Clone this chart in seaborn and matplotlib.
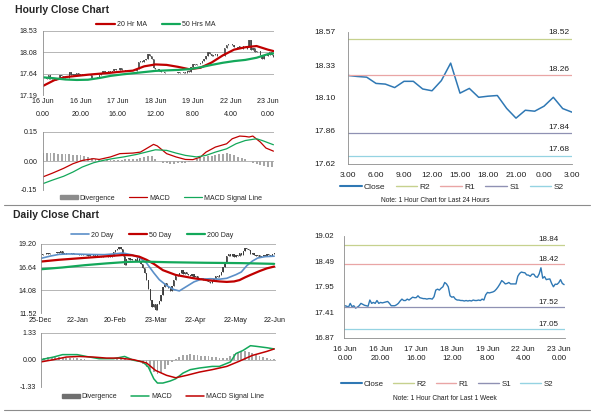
import numpy as np
import matplotlib
matplotlib.use("Agg")
import matplotlib.pyplot as plt
from matplotlib.lines import Line2D
from matplotlib.patches import Patch
import seaborn as sns

# ---------------- data ----------------
# Hourly closes, 16 Jun 0.00 .. 23 Jun 3.00 (trading hours)
week_close = [
    17.55, 17.54, 17.52, 17.60, 17.53, 17.55, 17.50, 17.52, 17.55, 17.60,
    17.58, 17.56, 17.55, 17.54, 17.67, 17.60, 17.62, 17.60, 17.66, 17.60,
    17.62, 17.61, 17.62, 17.63, 17.64, 17.60, 17.55, 17.55, 17.55, 17.57,
    17.60, 17.65, 17.69, 17.66, 17.66, 17.69, 17.67, 17.70, 17.73, 17.72,
    17.72, 17.76, 17.72, 17.71, 17.70, 17.70, 17.69, 17.70, 17.70, 17.69,
    17.74, 17.88, 17.90, 17.88, 17.92, 17.95, 18.04, 18.01, 17.95, 17.76,
    17.73, 17.74, 17.69, 17.67, 17.67, 17.66, 17.66, 17.65, 17.66, 17.65,
    17.66, 17.65, 17.67, 17.66, 17.66, 17.67, 17.66, 17.69, 17.67, 17.78,
    17.83, 17.82, 17.83, 17.84, 17.86, 17.90, 17.95, 18.01, 18.08, 18.05,
    18.01, 18.02, 18.04, 18.01, 18.01, 18.01, 18.01, 18.17, 18.23, 18.26,
    18.25, 18.245, 18.20, 18.195, 18.17, 18.215, 18.215, 18.16, 18.15, 18.22,
    18.35, 18.13, 18.165, 18.10, 18.11, 18.115, 18.02, 17.95, 18.005, 18.00,
    18.035, 18.10, 18.02, 17.995]
hour_ticks = [0, 20, 40, 60, 80, 100, 120]
hour_tick_labels = ["16 Jun\n0.00", "16 Jun\n20.00", "17 Jun\n16.00", "18 Jun\n12.00",
                    "19 Jun\n8.00", "22 Jun\n4.00", "23 Jun\n0.00"]

ma_idx = [0, 6, 12, 18, 24, 30, 36, 42, 48, 54, 60, 66, 72, 78, 84, 90, 96, 102, 108, 114, 120, 123]
ma20_hr = [17.38, 17.50, 17.565, 17.59, 17.615, 17.635, 17.655, 17.68, 17.70, 17.79, 17.83,
           17.82, 17.78, 17.73, 17.76, 17.87, 18.02, 18.14, 18.19, 18.215, 18.14, 18.11]
ma50_hr = [17.56, 17.54, 17.515, 17.505, 17.51, 17.545, 17.59, 17.62, 17.645, 17.67, 17.695,
           17.705, 17.715, 17.73, 17.77, 17.82, 17.865, 17.90, 17.925, 17.97, 18.045, 18.06]

macd_h_idx = [0, 5, 11, 16, 21, 27, 30, 36, 41, 48, 52, 55, 59, 61, 66, 71, 76, 80, 84, 87,
              92, 98, 101, 105, 108, 110, 112, 116, 119, 123]
macd_h = [-0.082, -0.063, -0.038, -0.014, 0.003, 0.012, 0.008, 0.021, 0.038, 0.041, 0.046,
          0.063, 0.086, 0.078, 0.038, 0.021, 0.008, 0.007, 0.020, 0.046, 0.072, 0.089, 0.115,
          0.129, 0.127, 0.124, 0.129, 0.098, 0.067, 0.051]
sig_h_idx = [0, 5, 11, 16, 21, 27, 32, 37, 43, 50, 55, 60, 66, 71, 76, 82, 87, 92, 98, 103,
             108, 114, 117, 123]
sig_h = [-0.117, -0.099, -0.079, -0.057, -0.031, -0.009, 0.003, 0.012, 0.021, 0.034, 0.046,
         0.058, 0.055, 0.041, 0.029, 0.021, 0.029, 0.046, 0.063, 0.089, 0.106, 0.115, 0.106, 0.084]
div_h_idx = list(range(0, 124, 2))
div_h = [0.040, 0.041, 0.040, 0.039, 0.038, 0.037,
         0.036, 0.035, 0.033, 0.031, 0.029,
         0.025, 0.020, 0.015, 0.010, 0.007,
         0.005, 0.004, 0.004, 0.005, 0.006, 0.007, 0.008,
         0.008, 0.010, 0.012, 0.016, 0.022, 0.028, 0.025,
         0.012, 0.000, -0.008, -0.012, -0.014, -0.013, -0.012,
         -0.010, -0.008, -0.004, 0.002, 0.010, 0.018,
         0.022, 0.025, 0.028, 0.030, 0.034, 0.038, 0.040,
         0.036, 0.030, 0.022, 0.015, 0.008, 0.002,
         -0.008, -0.016, -0.022, -0.027, -0.030, -0.030]

# Last 24 hours
day24_labels = ["3.00", "6.00", "9.00", "12.00", "15.00", "18.00", "21.00", "0.00", "3.00"]
day24_close = [18.257, 18.25, 18.245, 18.20, 18.195, 18.17, 18.215, 18.215, 18.16, 18.147,
               18.22, 18.346, 18.13, 18.164, 18.10, 18.108, 18.113, 18.02, 17.95, 18.007,
               18.00, 18.036, 18.10, 18.019, 17.993]
level_names = ["R2", "R1", "S1", "S2"]
levels_24h = [18.52, 18.26, 17.84, 17.68]
levels_week = [18.84, 18.42, 17.52, 17.05]

# Daily (business-day index 0 = 25-Dec)
daily_close = [
    18.0, 18.1, 18.05, 18.15, 18.1, 18.2, 18.15, 18.2, 18.25, 18.3,
    18.2, 18.4, 18.1, 18.15, 18.1, 18.05, 18.1, 18.15, 18.1, 18.05,
    18.1, 18.0, 18.05, 17.95, 18.0, 18.05, 17.9, 18.0, 17.95, 17.9,
    17.95, 17.85, 17.8, 17.85, 17.8, 17.75, 17.8, 17.85, 17.8, 17.9,
    18.3, 18.5, 18.7, 18.9, 18.6, 17.9, 16.9, 17.5, 17.6, 17.4,
    17.5, 17.5, 17.3, 17.6, 17.2, 17.0, 16.5, 16.0, 15.2, 14.2,
    13.0, 12.2, 12.5, 11.9, 12.6, 12.9, 13.5, 14.4, 14.9, 14.5,
    14.3, 14.0, 14.6, 15.2, 15.6, 15.8, 16.0, 16.3, 15.9, 16.1,
    15.9, 15.8, 15.6, 15.9, 15.5, 15.6, 15.4, 15.3, 15.4, 15.2,
    15.3, 15.1, 15.0, 14.9, 15.2, 15.3, 15.6, 15.5, 15.8, 16.1,
    16.6, 17.2, 17.9, 18.1, 17.9, 18.1, 17.8, 18.0, 17.9, 18.2,
    18.0, 18.4, 18.8, 18.6, 18.5, 18.1, 18.2, 18.0, 17.9, 18.0,
    17.8, 17.9, 18.0, 17.9, 18.1, 18.0, 17.9, 18.1, 18.2]
day_ticks = [0, 20, 41, 63, 85, 107, 128]
day_tick_labels = ["25-Dec", "22-Jan", "20-Feb", "23-Mar", "22-Apr", "22-May", "22-Jun"]

ma20_d_idx = [0, 5, 10, 15, 20, 25, 30, 35, 40, 45, 50, 54, 58, 62, 65, 69, 73, 76, 80, 84,
              88, 93, 98, 102, 107, 110, 113, 116, 119, 123, 128]
ma20_d = [17.6, 17.85, 18.05, 18.1, 18.08, 18.05, 18.03, 18.02, 18.1, 18.2, 18.0, 17.7, 17.1,
          16.0, 15.25, 14.6, 14.15, 14.0, 14.5, 15.0, 15.3, 15.35, 15.3, 15.4, 15.8, 16.1,
          16.8, 17.3, 17.65, 17.8, 17.85]
ma50_d_idx = [0, 10, 20, 30, 38, 45, 50, 54, 58, 62, 67, 74, 80, 84, 91, 98, 102, 106, 109,
              112, 115, 120, 124, 128]
ma50_d = [17.25, 17.45, 17.6, 17.75, 17.87, 17.98, 17.95, 17.8, 17.45, 17.0, 16.3, 15.77,
          15.55, 15.4, 15.2, 15.05, 15.0, 15.05, 15.2, 15.5, 15.77, 16.2, 16.5, 16.7]
ma200_d_idx = [0, 12, 24, 36, 48, 56, 70, 90, 110, 128]
ma200_d = [16.4, 16.6, 16.85, 17.05, 17.22, 17.25, 17.18, 17.12, 17.08, 17.0]

macd_d_idx = [0, 7, 12, 20, 25, 32, 40, 46, 51, 56, 59, 62, 64, 67, 71, 74, 78, 82, 87, 94,
              98, 104, 107, 111, 115, 118, 124, 128]
macd_d = [0.0, 0.13, 0.25, 0.25, 0.16, 0.05, 0.05, 0.16, -0.03, -0.11, -0.36, -0.94, -1.15,
          -1.15, -1.05, -0.94, -0.66, -0.49, -0.41, -0.33, -0.33, -0.11, 0.30, 0.46, 0.69,
          0.66, 0.59, 0.53]
sig_d_idx = [0, 7, 14, 21, 29, 36, 43, 51, 58, 63, 69, 74, 80, 87, 94, 102, 109, 116, 124, 128]
sig_d = [-0.11, 0.0, 0.13, 0.16, 0.13, 0.08, 0.08, 0.0, -0.16, -0.53, -0.77, -0.89, -0.77,
         -0.61, -0.49, -0.33, -0.07, 0.21, 0.41, 0.53]
div_d_idx = list(range(0, 129, 2))
div_d = [0.08, 0.10, 0.12, 0.12, 0.12, 0.11,
         0.10, 0.10, 0.09, 0.08, 0.06,
         0.04, 0.02, 0.00, -0.02, -0.03,
         -0.03, -0.03, -0.02, -0.01, 0.00,
         0.03, 0.05, 0.06, 0.00, -0.05,
         -0.08, -0.12, -0.20, -0.35, -0.50,
         -0.62, -0.72, -0.65, -0.45, -0.25,
         -0.10, 0.05, 0.15, 0.22, 0.25,
         0.26, 0.25, 0.22, 0.20, 0.18,
         0.16, 0.14, 0.12, 0.10, 0.08,
         0.10, 0.20, 0.30, 0.38, 0.42,
         0.42, 0.40, 0.35, 0.25, 0.18,
         0.12, 0.08, 0.05, 0.02]

# ---------------- style ----------------
sns.set_theme(style="white")
plt.rcParams["font.family"] = ["Liberation Sans", "DejaVu Sans"]

RED = "#c00000"
GREEN = "#13a85a"
BLUE = "#5b8fc8"
CLOSE = "#2f78b4"
GRID = "#a9a9a9"
SPINE = "#8c8c8c"
BARC = "#a6a6a6"
LEVEL_COLORS = ["#c6d18e", "#e9a5a5", "#8f91b3", "#95d3e2"]
TXT = "#1e1e1e"
LBL = 5.1

W, H = 600, 413
fig = plt.figure(figsize=(6, 4.13), dpi=100)


def rect(l, t, r, b):
    return [l / W, 1 - b / H, (r - l) / W, (b - t) / H]


def base(ax):
    for s in ["top", "right", "bottom"]:
        ax.spines[s].set_visible(False)
    ax.spines["left"].set_color(SPINE)
    ax.spines["left"].set_linewidth(0.6)
    ax.set_xlabel("")
    ax.set_ylabel("")


def fy(y):
    return 1 - y / H


# ---- titles and separators ----
fig.text(15 / W, fy(10), "Hourly Close Chart", fontsize=7.5, fontweight="bold", va="center")
fig.text(13 / W, fy(215), "Daily Close Chart", fontsize=7.5, fontweight="bold", va="center")
for yy in (205, 410):
    fig.add_artist(Line2D([4 / W, 590 / W], [fy(yy), fy(yy)], color=SPINE, lw=0.8))

# ---- ax1: hourly candles ----
ax1 = fig.add_axes(rect(43, 31, 274, 95))
x = np.arange(len(week_close))
opens = np.array([week_close[0]] + week_close[:-1])
closes = np.array(week_close)
ax1.bar(x, closes - opens, bottom=opens, width=0.75, color="#5f5f5f", linewidth=0)
ax1.vlines(x, np.minimum(opens, closes), np.maximum(opens, closes), color="#444444", lw=0.6)
sns.lineplot(x=ma_idx, y=ma20_hr, ax=ax1, color=RED, lw=1.6, legend=False)
sns.lineplot(x=ma_idx, y=ma50_hr, ax=ax1, color=GREEN, lw=1.6, legend=False)
ax1.set_xlim(0, 123.3)
ax1.set_ylim(17.19, 18.53)
ax1.set_yticks([17.19, 17.64, 18.08, 18.53])
ax1.set_yticklabels(["17.19", "17.64", "18.08", "18.53"])
ax1.set_xticks(hour_ticks)
ax1.set_xticklabels(hour_tick_labels, linespacing=2.1)
ax1.yaxis.grid(True, color=GRID, lw=0.6)
ax1.xaxis.grid(False)
base(ax1)
ax1.tick_params(axis="both", length=0, labelsize=LBL, colors=TXT)
ax1.tick_params(axis="y", pad=4)
ax1.tick_params(axis="x", pad=2.5)
ax1.legend(handles=[Line2D([], [], color=RED, lw=1.6), Line2D([], [], color=GREEN, lw=1.6)],
           labels=["20 Hr MA", "50 Hrs MA"], loc="center", ncol=2, frameon=False,
           bbox_to_anchor=(156 / W, fy(25)), bbox_transform=fig.transFigure,
           fontsize=5, handlelength=2.6, handletextpad=0.3, columnspacing=2.2)

# ---- ax2: hourly MACD ----
ax2 = fig.add_axes(rect(43, 132, 274, 190))
ax2.bar(div_h_idx, div_h, width=1.0, color=BARC, linewidth=0)
sns.lineplot(x=macd_h_idx, y=macd_h, ax=ax2, color=RED, lw=0.9, legend=False)
sns.lineplot(x=sig_h_idx, y=sig_h, ax=ax2, color=GREEN, lw=0.9, legend=False)
ax2.axhline(0, color=GRID, lw=0.6, zorder=0)
ax2.axhline(0.15, color=GRID, lw=0.6, zorder=0)
ax2.set_xlim(0, 123.3)
ax2.set_ylim(-0.15, 0.15)
ax2.set_yticks([-0.15, 0.0, 0.15])
ax2.set_yticklabels(["-0.15", "0.00", "0.15"])
ax2.set_xticks([])
base(ax2)
ax2.tick_params(axis="both", length=0, labelsize=LBL, pad=4, colors=TXT)
ax2.legend(handles=[Patch(color="#8c8c8c"), Line2D([], [], color=RED, lw=0.9),
                    Line2D([], [], color=GREEN, lw=0.9)],
           labels=["Divergence", "MACD", "MACD Signal Line"], loc="center", ncol=3, frameon=False,
           bbox_to_anchor=(161 / W, fy(198)), bbox_transform=fig.transFigure,
           fontsize=5, handlelength=2.6, handleheight=0.5, handletextpad=0.3, columnspacing=2.0)

# ---- ax3: last 24 hours ----
ax3 = fig.add_axes(rect(348, 32, 572, 164))
sns.lineplot(x=list(range(len(day24_close))), y=day24_close, ax=ax3, color=CLOSE, lw=1.1,
             legend=False)
for lv, c in zip(levels_24h, LEVEL_COLORS):
    ax3.axhline(lv, color=c, lw=0.9)
    ax3.text(22.6, lv + 0.018, f"{lv:.2f}", ha="center", va="bottom", fontsize=6, color=TXT)
ax3.set_xlim(0, 24)
ax3.set_ylim(17.62, 18.57)
ax3.set_yticks([17.62, 17.86, 18.10, 18.33, 18.57])
ax3.set_yticklabels(["17.62", "17.86", "18.10", "18.33", "18.57"])
ax3.set_xticks(list(range(0, 25, 3)))
ax3.set_xticklabels(day24_labels)
base(ax3)
ax3.spines["bottom"].set_visible(True)
ax3.spines["bottom"].set_color(SPINE)
ax3.spines["bottom"].set_linewidth(0.6)
ax3.tick_params(axis="both", length=2, width=0.5, color=SPINE, labelsize=6, colors=TXT)
ax3.tick_params(axis="y", pad=7)
ax3.tick_params(axis="x", pad=3.5)
ax3.legend(handles=[Line2D([], [], color=CLOSE, lw=1.5)] +
           [Line2D([], [], color=c, lw=1.0) for c in LEVEL_COLORS],
           labels=["Close"] + level_names, loc="center", ncol=5, frameon=False,
           bbox_to_anchor=(452 / W, fy(187)), bbox_transform=fig.transFigure,
           fontsize=6, handlelength=2.6, handletextpad=0.3, columnspacing=1.2)
fig.text(435 / W, fy(201), "Note: 1 Hour Chart for Last 24 Hours", ha="center", va="center",
         fontsize=4.8, color=TXT)

# ---- ax4: daily candles ----
ax4 = fig.add_axes(rect(40.7, 244, 276, 313.3))
xd = np.arange(len(daily_close))
d_open = np.array([daily_close[0]] + daily_close[:-1])
d_close = np.array(daily_close)
ax4.bar(xd, d_close - d_open, bottom=d_open, width=0.7, color="#4a4a4a", linewidth=0)
ax4.vlines(xd, np.minimum(d_open, d_close), np.maximum(d_open, d_close), color="#3a3a3a", lw=0.6)
sns.lineplot(x=ma20_d_idx, y=ma20_d, ax=ax4, color=BLUE, lw=1.2, legend=False)
sns.lineplot(x=ma50_d_idx, y=ma50_d, ax=ax4, color=RED, lw=1.6, legend=False)
sns.lineplot(x=ma200_d_idx, y=ma200_d, ax=ax4, color=GREEN, lw=1.6, legend=False)
ax4.set_xlim(0, 129)
ax4.set_ylim(11.52, 19.20)
ax4.set_yticks([11.52, 14.08, 16.64, 19.20])
ax4.set_yticklabels(["11.52", "14.08", "16.64", "19.20"])
ax4.set_xticks(day_ticks)
ax4.set_xticklabels(day_tick_labels)
ax4.yaxis.grid(True, color=GRID, lw=0.6)
ax4.xaxis.grid(False)
base(ax4)
ax4.tick_params(axis="both", length=0, labelsize=LBL, colors=TXT)
ax4.tick_params(axis="y", pad=3)
ax4.tick_params(axis="x", pad=3)
ax4.legend(handles=[Line2D([], [], color=BLUE, lw=1.2), Line2D([], [], color=RED, lw=1.6),
                    Line2D([], [], color=GREEN, lw=1.6)],
           labels=["20 Day", "50 Day", "200 Day"], loc="center", ncol=3, frameon=False,
           bbox_to_anchor=(152 / W, fy(235)), bbox_transform=fig.transFigure,
           fontsize=5, handlelength=2.6, handletextpad=0.3, columnspacing=2.2)

# ---- ax5: daily MACD ----
ax5 = fig.add_axes(rect(40.7, 332.7, 276, 386.7))
ax5.bar(div_d_idx, div_d, width=1.0, color=BARC, linewidth=0)
sns.lineplot(x=macd_d_idx, y=macd_d, ax=ax5, color=GREEN, lw=1.1, legend=False)
sns.lineplot(x=sig_d_idx, y=sig_d, ax=ax5, color=RED, lw=1.1, legend=False)
ax5.axhline(0, color=GRID, lw=0.6, zorder=0)
ax5.axhline(1.33, color=GRID, lw=0.6, zorder=0)
ax5.set_xlim(0, 129)
ax5.set_ylim(-1.33, 1.33)
ax5.set_yticks([-1.33, 0.0, 1.33])
ax5.set_yticklabels(["-1.33", "0.00", "1.33"])
ax5.set_xticks([])
base(ax5)
ax5.tick_params(axis="both", length=0, labelsize=LBL, pad=3, colors=TXT)
ax5.legend(handles=[Patch(color="#6f6f6f"), Line2D([], [], color=GREEN, lw=1.1),
                    Line2D([], [], color=RED, lw=1.1)],
           labels=["Divergence", "MACD", "MACD Signal Line"], loc="center", ncol=3, frameon=False,
           bbox_to_anchor=(163 / W, fy(397)), bbox_transform=fig.transFigure,
           fontsize=5, handlelength=2.6, handleheight=0.5, handletextpad=0.3, columnspacing=2.0)

# ---- ax6: last 1 week ----
ax6 = fig.add_axes(rect(344, 236, 565, 338))
sns.lineplot(x=list(range(len(week_close))), y=week_close, ax=ax6, color=CLOSE, lw=1.0,
             legend=False)
for lv, c in zip(levels_week, LEVEL_COLORS):
    ax6.axhline(lv, color=c, lw=0.9)
    ax6.text(114, lv + 0.03, f"{lv:.2f}", ha="center", va="bottom", fontsize=5.8, color=TXT)
ax6.set_xlim(-0.5, 123.5)
ax6.set_ylim(16.87, 19.02)
ax6.set_yticks([16.87, 17.41, 17.95, 18.49, 19.02])
ax6.set_yticklabels(["16.87", "17.41", "17.95", "18.49", "19.02"])
ax6.set_xticks(hour_ticks)
ax6.set_xticklabels(hour_tick_labels, linespacing=1.3)
base(ax6)
ax6.spines["bottom"].set_visible(True)
ax6.spines["bottom"].set_color(SPINE)
ax6.spines["bottom"].set_linewidth(0.6)
ax6.tick_params(axis="both", length=2, width=0.5, color=SPINE, labelsize=5.7, colors=TXT)
ax6.tick_params(axis="y", pad=5)
ax6.tick_params(axis="x", pad=4)
ax6.legend(handles=[Line2D([], [], color=CLOSE, lw=1.5)] +
           [Line2D([], [], color=c, lw=1.0) for c in LEVEL_COLORS],
           labels=["Close"] + level_names, loc="center", ncol=5, frameon=False,
           bbox_to_anchor=(447 / W, fy(384)), bbox_transform=fig.transFigure,
           fontsize=5.7, handlelength=2.6, handletextpad=0.3, columnspacing=1.2)
fig.text(445 / W, fy(398), "Note: 1 Hour Chart for Last 1 Week", ha="center", va="center",
         fontsize=4.8, color=TXT)

fig.savefig("out.png", dpi=100)
